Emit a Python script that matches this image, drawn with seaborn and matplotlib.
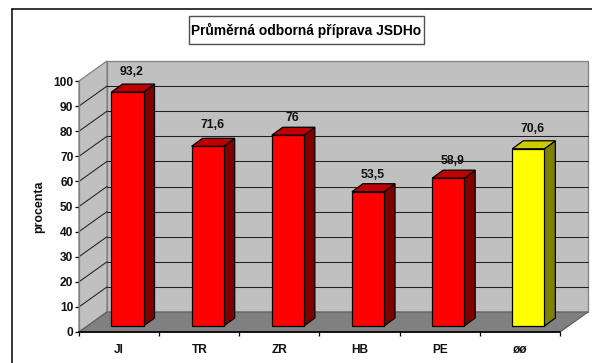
import matplotlib
matplotlib.use("Agg")
import matplotlib.pyplot as plt
from matplotlib.lines import Line2D
from matplotlib.patches import Polygon, Rectangle
import pandas as pd
import seaborn as sns

categories = ["JI", "TR", "ZR", "HB", "PE", "øø"]
values = [93.2, 71.6, 76, 53.5, 58.9, 70.6]
label_gap_px = [20, 21, 17, 17, 17, 20]
face_colors = ["#ff0000"] * 5 + ["#ffff00"]
side_colors = ["#800000"] * 5 + ["#808000"]
top_colors = ["#c00000"] * 5 + ["#cccc00"]
y_ticks = list(range(0, 101, 10))

W, H = 592, 363
sns.set_style("white")
plt.rcParams["font.family"] = ["Liberation Sans", "DejaVu Sans"]
plt.rcParams["font.weight"] = "bold"

fig = plt.figure(figsize=(W / 100, H / 100), dpi=100, facecolor="white")
L, R, T, B = 79, 560, 81, 332
ax = fig.add_axes([L / W, 1 - B / H, (R - L) / W, (B - T) / H])
ax.set_xlim(-0.5, 5.5)
ax.set_ylim(0, 100)
ax.set_facecolor("none")

# depth of the fake 3D box, in data units
DX, DY = 28 / 80.17, 20 / 2.51
# bar placement inside the box
SHIFT, BASE = 8.4 / 80.17, 6 / 2.51
BDX, BDY = 11 / 80.17, 8 / 2.51
xa, xb = -0.5, 5.5

def poly(points, fc, ec="#808080", z=1, lw=0.9):
    ax.add_patch(Polygon(points, closed=True, facecolor=fc, edgecolor=ec,
                         linewidth=lw, zorder=z, clip_on=False))

poly([(xa + DX, DY), (xb + DX, DY), (xb + DX, 100 + DY), (xa + DX, 100 + DY)], "#c0c0c0")
poly([(xa, 0), (xa + DX, DY), (xa + DX, 100 + DY), (xa, 100)], "#c0c0c0")
poly([(xa, 0), (xb, 0), (xb + DX, DY), (xa + DX, DY)], "#808080", ec="#606060")

for t in y_ticks[1:-1]:
    ax.plot([xa + DX, xb + DX], [t + DY, t + DY], color="#202020", lw=0.75, zorder=1.5, clip_on=False)
for t in y_ticks[1:-1]:
    ax.plot([xa, xa + DX], [t, t + DY], color="#202020", lw=0.75, zorder=1.5, clip_on=False)

df = pd.DataFrame({"cat": categories, "val": values})
sns.barplot(data=df, x="cat", y="val", hue="cat", palette=face_colors, saturation=1,
            width=0.4, edgecolor="black", linewidth=0.9, legend=False, ax=ax, zorder=4,
            order=categories, hue_order=categories)

bars = sorted([p for p in ax.patches if isinstance(p, Rectangle)], key=lambda p: p.get_x())
for p, v, side, top, gap in zip(bars, values, side_colors, top_colors, label_gap_px):
    x0 = p.get_x() + SHIFT
    w = p.get_width()
    p.set_x(x0)
    p.set_y(BASE)
    p.set_clip_on(False)
    p.set_zorder(4)
    x1 = x0 + w
    y0, y1 = BASE, BASE + v
    poly([(x1, y0), (x1 + BDX, y0 + BDY), (x1 + BDX, y1 + BDY), (x1, y1)], side, ec="black", z=3.5)
    poly([(x0, y1), (x1, y1), (x1 + BDX, y1 + BDY), (x0 + BDX, y1 + BDY)], top, ec="black", z=3.5)
    ax.annotate(f"{v:g}".replace(".", ","), xy=(x0 + w / 2, y1), xytext=(4.5, gap),
                textcoords="offset pixels", ha="center", va="center",
                fontsize=8.8, fontweight="bold", color="#111111", zorder=6, annotation_clip=False)

for s in ["top", "right"]:
    ax.spines[s].set_visible(False)
ax.spines["left"].set_color("#808080")
ax.spines["left"].set_linewidth(0.9)
ax.spines["bottom"].set_color("black")
ax.spines["bottom"].set_linewidth(1.2)
ax.spines["bottom"].set_zorder(5)

ax.set_yticks(y_ticks)
ax.set_yticklabels([str(t) for t in y_ticks], fontsize=8.6, fontweight="bold", color="#111111")
ax.set_xticks(range(len(categories)))
ax.set_xticklabels(categories, fontsize=8.6, fontweight="bold", color="#111111")
ax.set_xticks([i - 0.5 for i in range(len(categories) + 1)], minor=True)
ax.tick_params(axis="x", which="major", length=0, pad=8.5)
ax.tick_params(axis="x", which="minor", length=3, width=0.9, color="black", bottom=True)
ax.tick_params(axis="y", which="major", length=3, width=0.9, color="black", pad=1, left=True)
ax.set_xlabel("")
ax.set_ylabel("")

fig.text(39 / W, 1 - 207 / H, "procenta", rotation=90, ha="center", va="center",
         fontsize=8.9, fontweight="bold", color="#111111")

# title box
fig.add_artist(Rectangle((188.5 / W, 1 - 44 / H), 235 / W, 28 / H, transform=fig.transFigure,
                         facecolor="white", edgecolor="#505050", linewidth=1.0))
fig.text(306.5 / W, 1 - 30.5 / H, "Průměrná odborná příprava JSDHo", ha="center", va="center",
         fontsize=9.9, fontweight="bold", color="black")

# chart-area frame, cropped by the picture on the right and at the bottom
fig.add_artist(Line2D([11.5 / W, 11.5 / W], [0, 1 - 8.5 / H], color="black", lw=1.1))
fig.add_artist(Line2D([11.5 / W, 1], [1 - 8.5 / H, 1 - 8.5 / H], color="black", lw=1.1))

fig.savefig("out.png", dpi=100, facecolor="white")
